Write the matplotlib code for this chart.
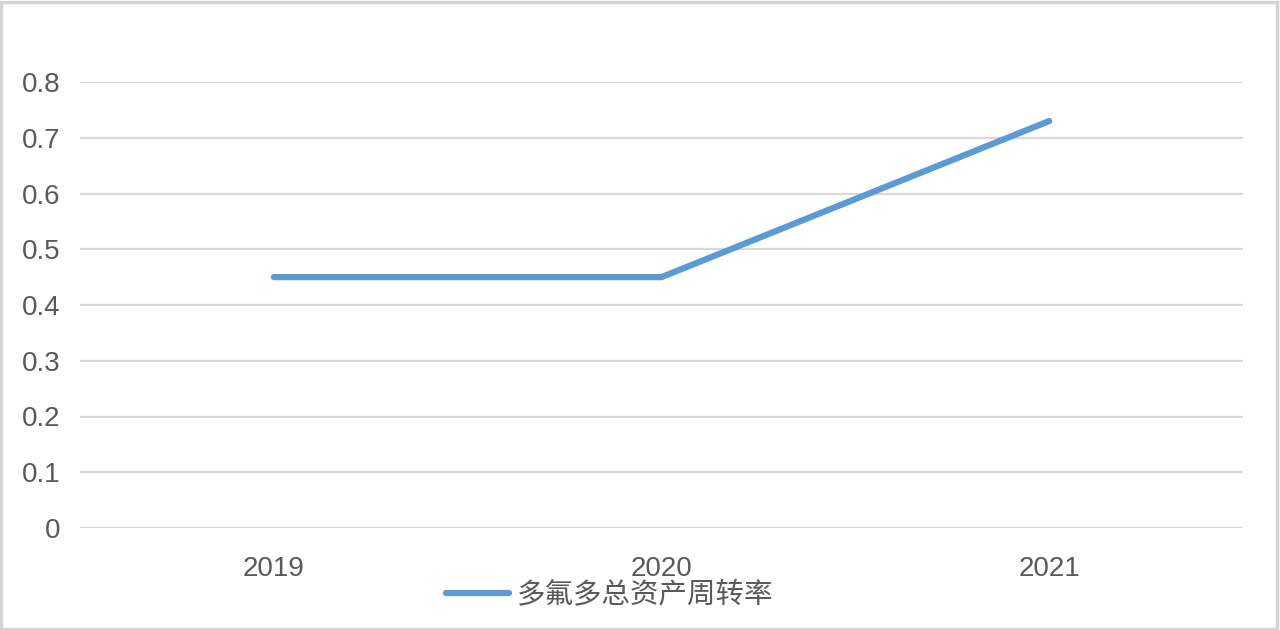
import matplotlib
matplotlib.use("Agg")
import matplotlib.pyplot as plt
from matplotlib.patches import Rectangle

categories = ["2019", "2020", "2021"]
values = [0.45, 0.45, 0.73]
series_name = "多氟多总资产周转率"
yticks = [0, 0.1, 0.2, 0.3, 0.4, 0.5, 0.6, 0.7, 0.8]
ytick_labels = ["0", "0.1", "0.2", "0.3", "0.4", "0.5", "0.6", "0.7", "0.8"]

plt.rcParams['font.family'] = ['Liberation Sans', 'Noto Sans CJK SC', 'DejaVu Sans']

W, H = 1280, 630
fig = plt.figure(figsize=(W / 100, H / 100), dpi=100)
fig.patch.set_facecolor("white")
fig.patches.append(Rectangle((0.001, 0.002), 0.997, 0.995, transform=fig.transFigure,
                             fill=False, edgecolor="#d4d4d4", linewidth=2.5))

ax = fig.add_axes([80 / W, (H - 528) / H, (1243 - 80) / W, (528 - 82) / H])
x = list(range(len(categories)))
line, = ax.plot(x, values, color="#5B9BD5", linewidth=4.5, solid_capstyle="round",
                solid_joinstyle="round", label=series_name, zorder=3)
ax.set_xlim(-0.5, len(categories) - 0.5)
ax.set_ylim(0, 0.8)
ax.set_yticks(yticks)
ax.set_yticklabels(ytick_labels)
ax.set_xticks(x)
ax.set_xticklabels(categories)
for s in ax.spines.values():
    s.set_visible(False)
ax.grid(axis="y", color="#d9d9d9", linewidth=1.6)
ax.set_axisbelow(True)
ax.tick_params(axis="both", length=0, labelsize=20, colors="#595959")
ax.tick_params(axis="y", pad=14)
ax.tick_params(axis="x", pad=20)

leg = fig.legend(handles=[line], loc="center", bbox_to_anchor=(610 / W, (H - 595) / H),
                 frameon=False, handlelength=2.2, handletextpad=0.3,
                 prop={'family': ['Noto Sans CJK SC', 'DejaVu Sans'], 'size': 20.5})
for t in leg.get_texts():
    t.set_color("#595959")

fig.savefig("out.png", dpi=100, facecolor="white")
